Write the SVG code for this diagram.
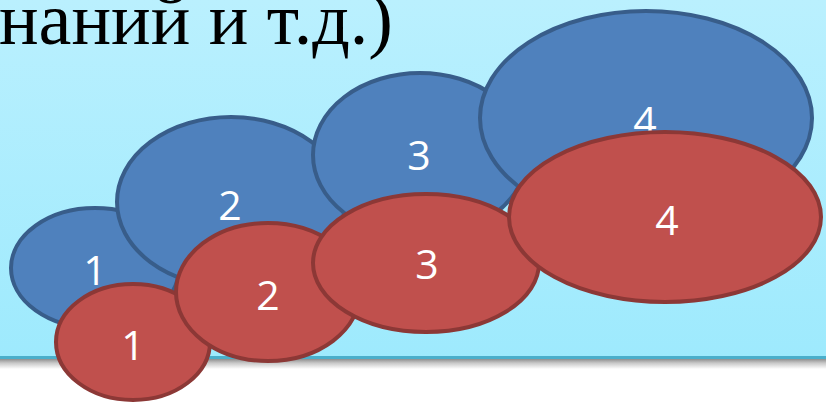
<svg xmlns="http://www.w3.org/2000/svg" width="826" height="402" viewBox="0 0 826 402">
<defs>
<linearGradient id="bg" x1="0" y1="0" x2="0" y2="1">
<stop offset="0" stop-color="#BAF0FE"/>
<stop offset="1" stop-color="#9EEAFD"/>
</linearGradient>
<linearGradient id="sh" x1="0" y1="0" x2="0" y2="1">
<stop offset="0" stop-color="#8f8f8f"/>
<stop offset="0.4" stop-color="#c8c8c8"/>
<stop offset="1" stop-color="#ffffff"/>
</linearGradient>
<style>
.blue{fill:#4F81BD;stroke:#385D8A;stroke-width:4}
.red{fill:#C0504D;stroke:#8C3836;stroke-width:4}
.lbl{font-family:"Open Sans","Noto Sans",sans-serif;font-size:41px;fill:#FFFFFF;text-anchor:middle}
.title{font-family:"Liberation Serif","Times New Roman",serif;font-size:74px;fill:#000000}
</style>
</defs>
<rect x="0" y="0" width="826" height="402" fill="#FFFFFF"/>
<rect x="0" y="0" width="826" height="357" fill="url(#bg)"/>
<rect x="0" y="359" width="826" height="10" fill="url(#sh)"/>
<rect x="0" y="356" width="826" height="3" fill="#4AAFCB"/>
<text class="title" x="-1" y="44">наний и т.д.)</text>
<g id="blue1"><ellipse class="blue" cx="95" cy="268" rx="84" ry="60"/><text class="lbl" x="95" y="285">1</text></g>
<g id="blue2"><ellipse class="blue" cx="231" cy="202" rx="114" ry="85"/><text class="lbl" x="230" y="220">2</text></g>
<g id="blue3"><ellipse class="blue" cx="420" cy="155" rx="107" ry="82"/><text class="lbl" x="419" y="170">3</text></g>
<g id="blue4"><ellipse class="blue" cx="646" cy="118" rx="166" ry="107"/><text class="lbl" x="645" y="136">4</text></g>
<g id="red1"><ellipse class="red" cx="133" cy="342" rx="77" ry="58"/><text class="lbl" x="133" y="360">1</text></g>
<g id="red2"><ellipse class="red" cx="268" cy="292" rx="92" ry="69"/><text class="lbl" x="268" y="310">2</text></g>
<g id="red3"><ellipse class="red" cx="426" cy="263" rx="113" ry="69"/><text class="lbl" x="427" y="279">3</text></g>
<g id="red4"><ellipse class="red" cx="665" cy="217" rx="156" ry="85"/><text class="lbl" x="667" y="235">4</text></g>
<g id="connectors"></g>
</svg>
